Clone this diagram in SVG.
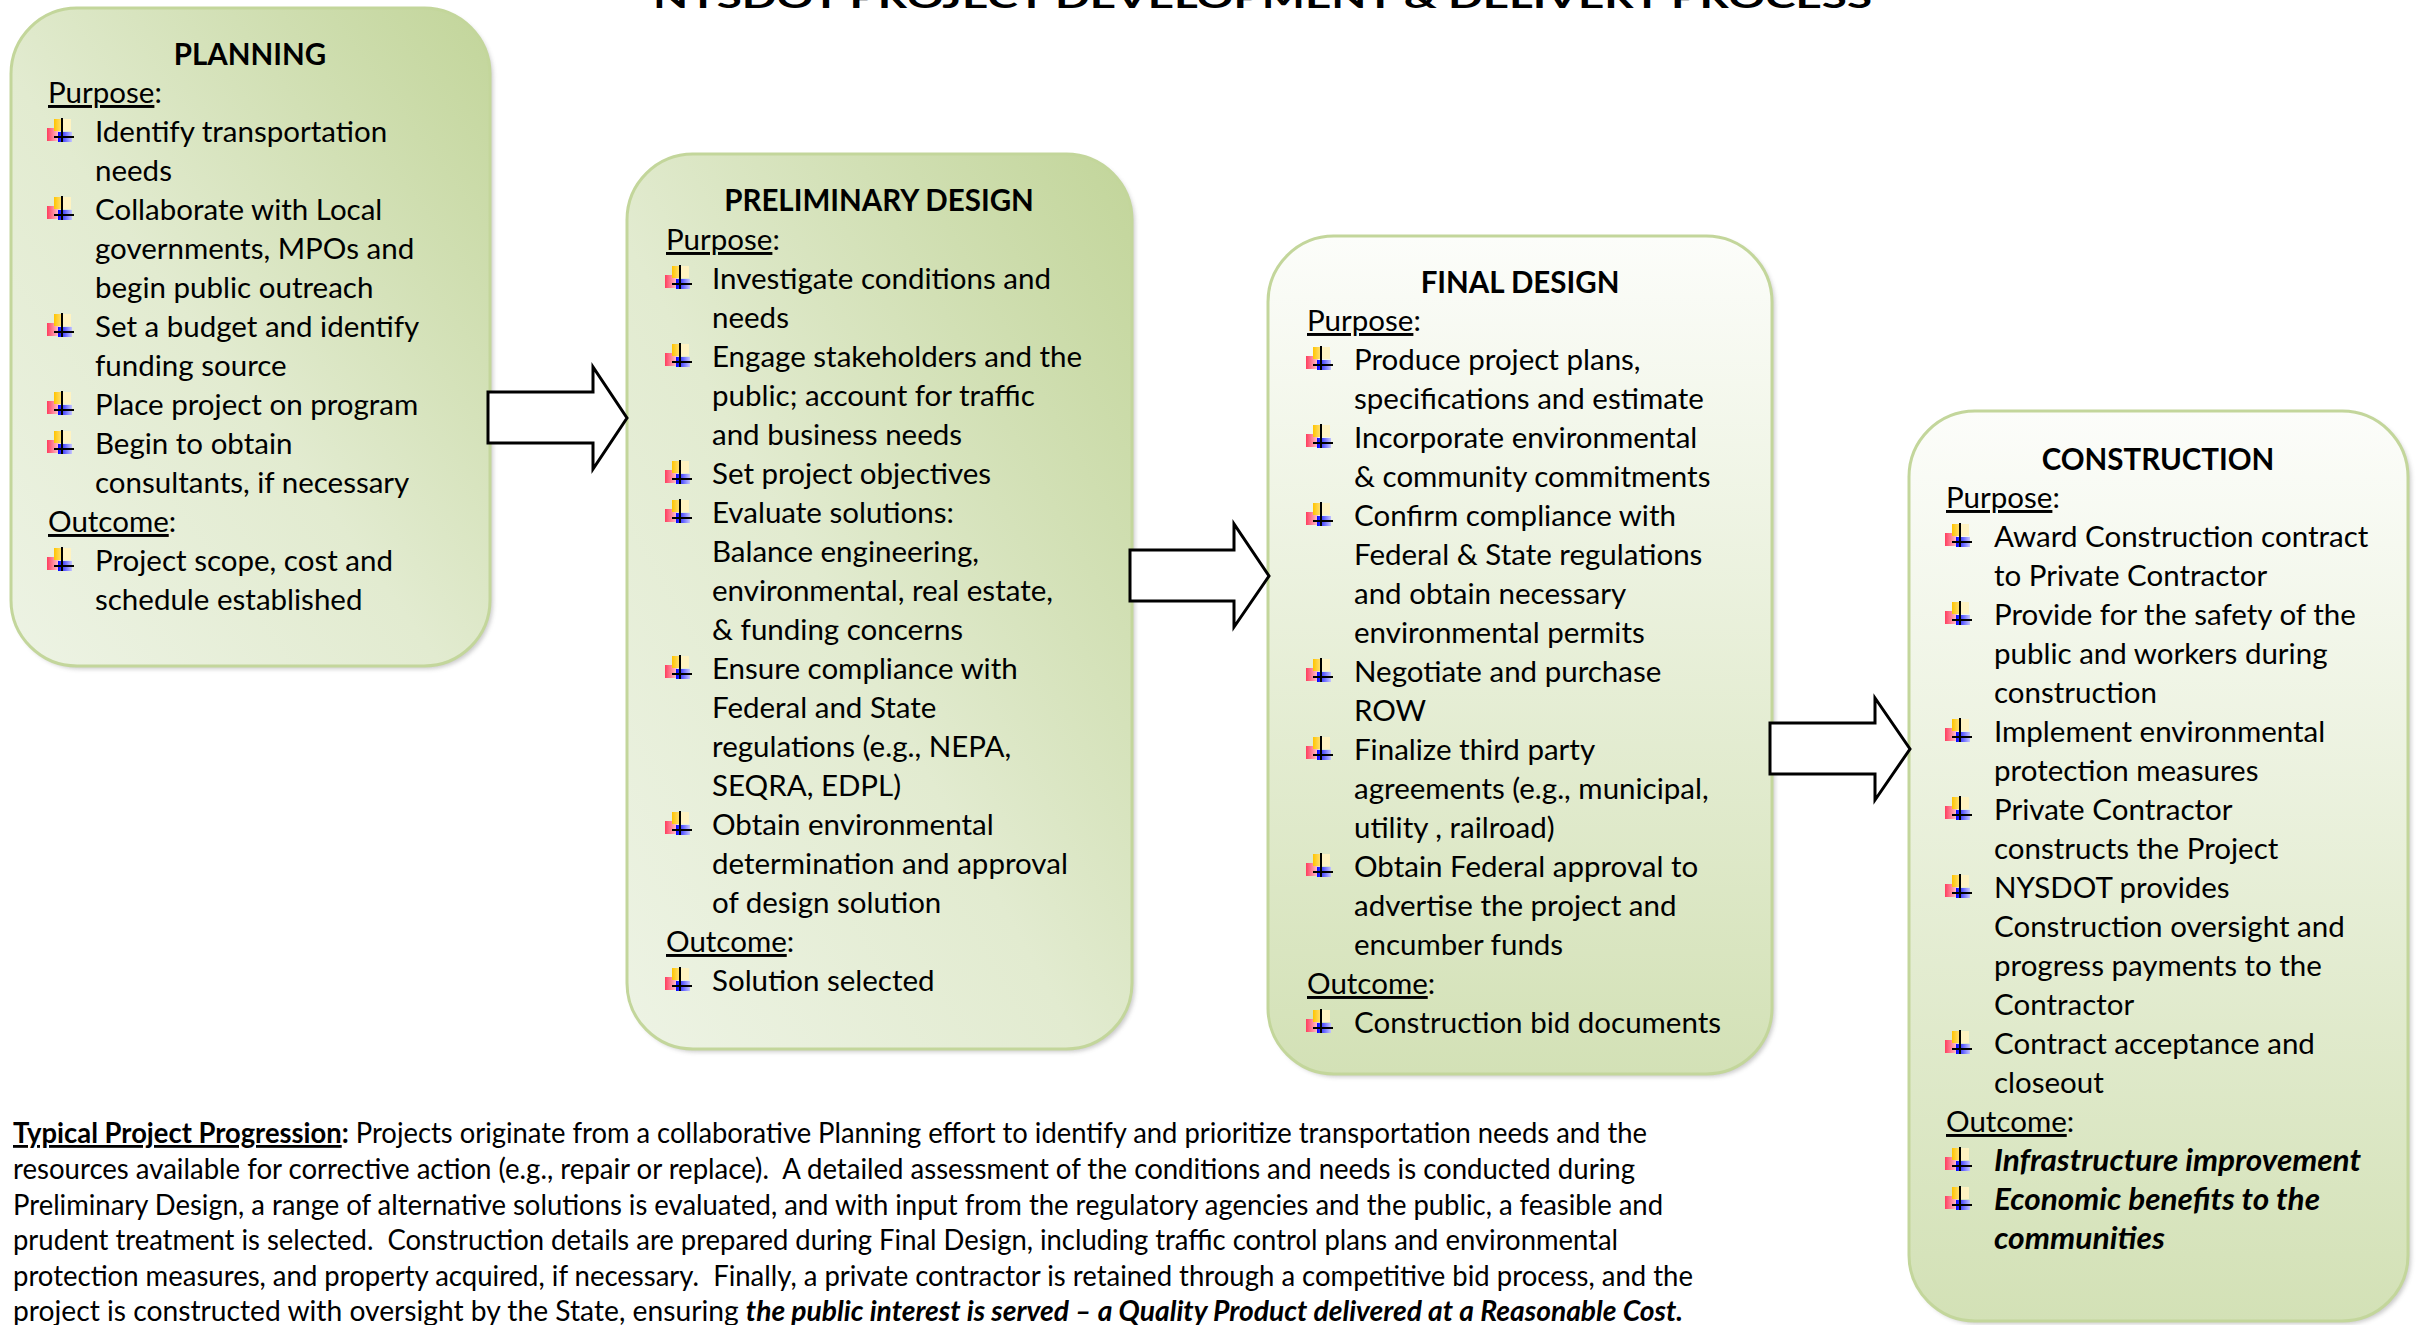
<svg xmlns="http://www.w3.org/2000/svg" width="2416" height="1325" viewBox="0 0 2416 1325">
<style>
.t { font-family: Lato, "Open Sans", "Liberation Sans", sans-serif; font-size: 29.5px; fill: #000; }
.h { font-weight: bold; text-anchor: middle; }
.u { text-decoration: underline; }
.bi { font-weight: bold; font-style: italic; }
.p { font-family: Lato, "Open Sans", "Liberation Sans", sans-serif; font-size: 28px; fill: #000; white-space: pre; }
.box { stroke: #c3d69b; stroke-width: 3; }
.shadow { fill: #8c8c8c; opacity: 0.45; filter: url(#blur); }
.arrow { fill: #ffffff; stroke: #000; stroke-width: 3; stroke-linejoin: miter; }
</style>
<defs>
  <filter id="blur" x="-5%" y="-5%" width="110%" height="110%"><feGaussianBlur stdDeviation="2"/></filter>
  <linearGradient id="gA" x1="0" y1="1" x2="1" y2="0">
    <stop offset="0" stop-color="#edf3e4"/>
    <stop offset="0.45" stop-color="#e2ebd0"/>
    <stop offset="1" stop-color="#c2d59a"/>
  </linearGradient>
  <linearGradient id="gB" x1="0" y1="0" x2="0" y2="1">
    <stop offset="0" stop-color="#fcfdfa"/>
    <stop offset="1" stop-color="#d3e1b6"/>
  </linearGradient>
  <linearGradient id="pinkG" x1="0" y1="0" x2="1" y2="0">
    <stop offset="0" stop-color="#ff3d5e"/>
    <stop offset="1" stop-color="#ffc8d0"/>
  </linearGradient>
  <linearGradient id="yelG" x1="0" y1="0" x2="1" y2="0">
    <stop offset="0" stop-color="#ffc400"/>
    <stop offset="1" stop-color="#ffe27a"/>
  </linearGradient>
  <linearGradient id="bluG" x1="0" y1="0" x2="1" y2="0">
    <stop offset="0" stop-color="#0000ff"/>
    <stop offset="1" stop-color="#c4c4ff"/>
  </linearGradient>
  <g id="bul">
    <rect x="0" y="-14" width="12" height="13" fill="url(#pinkG)"/>
    <rect x="7" y="-23" width="8" height="12" fill="url(#yelG)"/>
    <rect x="15" y="-23" width="9" height="12" fill="#fff3c2"/>
    <rect x="11" y="-10" width="14" height="10" fill="url(#bluG)"/>
    <line x1="15" y1="-24" x2="15" y2="0" stroke="#000" stroke-width="2"/>
    <line x1="7" y1="-5" x2="27" y2="-5" stroke="#000" stroke-width="2"/>
  </g>
</defs>
<rect width="2416" height="1325" fill="#ffffff"/>

<text class="t" x="653" y="8" font-size="46" font-weight="bold" textLength="1219" lengthAdjust="spacingAndGlyphs">NYSDOT PROJECT DEVELOPMENT &amp; DELIVERY PROCESS</text>

<g id="planning">
  <rect class="shadow" x="14" y="11" width="479" height="658" rx="66"/>
  <rect class="box" x="11" y="8" width="479" height="658" rx="66" fill="url(#gA)"/>
  <text class="t h" x="250" y="65">PLANNING</text>
  <text class="t" x="48" y="103"><tspan class="u">Purpose</tspan>:</text>
  <use href="#bul" x="47" y="142"/><text class="t" x="95" y="142">Identify transportation</text>
  <text class="t" x="95" y="181">needs</text>
  <use href="#bul" x="47" y="220"/><text class="t" x="95" y="220">Collaborate with Local</text>
  <text class="t" x="95" y="259">governments, MPOs and</text>
  <text class="t" x="95" y="298">begin public outreach</text>
  <use href="#bul" x="47" y="337"/><text class="t" x="95" y="337">Set a budget and identify</text>
  <text class="t" x="95" y="376">funding source</text>
  <use href="#bul" x="47" y="415"/><text class="t" x="95" y="415">Place project on program</text>
  <use href="#bul" x="47" y="454"/><text class="t" x="95" y="454">Begin to obtain</text>
  <text class="t" x="95" y="493">consultants, if necessary</text>
  <text class="t" x="48" y="532"><tspan class="u">Outcome</tspan>:</text>
  <use href="#bul" x="47" y="571"/><text class="t" x="95" y="571">Project scope, cost and</text>
  <text class="t" x="95" y="610">schedule established</text>
</g>

<g id="preliminary-design">
  <rect class="shadow" x="630" y="157" width="505" height="895" rx="66"/>
  <rect class="box" x="627" y="154" width="505" height="895" rx="66" fill="url(#gA)"/>
  <text class="t h" x="879" y="211">PRELIMINARY DESIGN</text>
  <text class="t" x="666" y="250"><tspan class="u">Purpose</tspan>:</text>
  <use href="#bul" x="665" y="289"/><text class="t" x="712" y="289">Investigate conditions and</text>
  <text class="t" x="712" y="328">needs</text>
  <use href="#bul" x="665" y="367"/><text class="t" x="712" y="367">Engage stakeholders and the</text>
  <text class="t" x="712" y="406">public; account for traffic</text>
  <text class="t" x="712" y="445">and business needs</text>
  <use href="#bul" x="665" y="484"/><text class="t" x="712" y="484">Set project objectives</text>
  <use href="#bul" x="665" y="523"/><text class="t" x="712" y="523">Evaluate solutions:</text>
  <text class="t" x="712" y="562">Balance engineering,</text>
  <text class="t" x="712" y="601">environmental, real estate,</text>
  <text class="t" x="712" y="640">&amp; funding concerns</text>
  <use href="#bul" x="665" y="679"/><text class="t" x="712" y="679">Ensure compliance with</text>
  <text class="t" x="712" y="718">Federal and State</text>
  <text class="t" x="712" y="757">regulations (e.g., NEPA,</text>
  <text class="t" x="712" y="796">SEQRA, EDPL)</text>
  <use href="#bul" x="665" y="835"/><text class="t" x="712" y="835">Obtain environmental</text>
  <text class="t" x="712" y="874">determination and approval</text>
  <text class="t" x="712" y="913">of design solution</text>
  <text class="t" x="666" y="952"><tspan class="u">Outcome</tspan>:</text>
  <use href="#bul" x="665" y="991"/><text class="t" x="712" y="991">Solution selected</text>
</g>

<g id="final-design">
  <rect class="shadow" x="1271" y="239" width="504" height="838" rx="66"/>
  <rect class="box" x="1268" y="236" width="504" height="838" rx="66" fill="url(#gB)"/>
  <text class="t h" x="1520" y="293">FINAL DESIGN</text>
  <text class="t" x="1307" y="331"><tspan class="u">Purpose</tspan>:</text>
  <use href="#bul" x="1306" y="370"/><text class="t" x="1354" y="370">Produce project plans,</text>
  <text class="t" x="1354" y="409">specifications and estimate</text>
  <use href="#bul" x="1306" y="448"/><text class="t" x="1354" y="448">Incorporate environmental</text>
  <text class="t" x="1354" y="487">&amp; community commitments</text>
  <use href="#bul" x="1306" y="526"/><text class="t" x="1354" y="526">Confirm compliance with</text>
  <text class="t" x="1354" y="565">Federal &amp; State regulations</text>
  <text class="t" x="1354" y="604">and obtain necessary</text>
  <text class="t" x="1354" y="643">environmental permits</text>
  <use href="#bul" x="1306" y="682"/><text class="t" x="1354" y="682">Negotiate and purchase</text>
  <text class="t" x="1354" y="721">ROW</text>
  <use href="#bul" x="1306" y="760"/><text class="t" x="1354" y="760">Finalize third party</text>
  <text class="t" x="1354" y="799">agreements (e.g., municipal,</text>
  <text class="t" x="1354" y="838">utility , railroad)</text>
  <use href="#bul" x="1306" y="877"/><text class="t" x="1354" y="877">Obtain Federal approval to</text>
  <text class="t" x="1354" y="916">advertise the project and</text>
  <text class="t" x="1354" y="955">encumber funds</text>
  <text class="t" x="1307" y="994"><tspan class="u">Outcome</tspan>:</text>
  <use href="#bul" x="1306" y="1033"/><text class="t" x="1354" y="1033">Construction bid documents</text>
</g>

<g id="construction">
  <rect class="shadow" x="1912" y="414" width="499" height="910" rx="66"/>
  <rect class="box" x="1909" y="411" width="499" height="910" rx="66" fill="url(#gB)"/>
  <text class="t h" x="2158" y="470">CONSTRUCTION</text>
  <text class="t" x="1946" y="508"><tspan class="u">Purpose</tspan>:</text>
  <use href="#bul" x="1945" y="547"/><text class="t" x="1994" y="547">Award Construction contract</text>
  <text class="t" x="1994" y="586">to Private Contractor</text>
  <use href="#bul" x="1945" y="625"/><text class="t" x="1994" y="625">Provide for the safety of the</text>
  <text class="t" x="1994" y="664">public and workers during</text>
  <text class="t" x="1994" y="703">construction</text>
  <use href="#bul" x="1945" y="742"/><text class="t" x="1994" y="742">Implement environmental</text>
  <text class="t" x="1994" y="781">protection measures</text>
  <use href="#bul" x="1945" y="820"/><text class="t" x="1994" y="820">Private Contractor</text>
  <text class="t" x="1994" y="859">constructs the Project</text>
  <use href="#bul" x="1945" y="898"/><text class="t" x="1994" y="898">NYSDOT provides</text>
  <text class="t" x="1994" y="937">Construction oversight and</text>
  <text class="t" x="1994" y="976">progress payments to the</text>
  <text class="t" x="1994" y="1015">Contractor</text>
  <use href="#bul" x="1945" y="1054"/><text class="t" x="1994" y="1054">Contract acceptance and</text>
  <text class="t" x="1994" y="1093">closeout</text>
  <text class="t" x="1946" y="1132"><tspan class="u">Outcome</tspan>:</text>
  <use href="#bul" x="1945" y="1171"/><text class="t bi" x="1994" y="1171" textLength="367" lengthAdjust="spacingAndGlyphs">Infrastructure improvement</text>
  <use href="#bul" x="1945" y="1210"/><text class="t bi" x="1994" y="1210" textLength="326" lengthAdjust="spacingAndGlyphs">Economic benefits to the</text>
  <text class="t bi" x="1994" y="1249" textLength="171" lengthAdjust="spacingAndGlyphs">communities</text>
</g>

<g id="connectors">
  <path class="arrow" d="M488,392 H593 V367 L627,418 L593,469 V443 H488 Z"/>
  <path class="arrow" d="M1130,550 H1234 V524 L1269,576 L1234,627 V601 H1130 Z"/>
  <path class="arrow" d="M1770,723 H1875 V698 L1910,749 L1875,800 V774 H1770 Z"/>
</g>

<g id="progression-note">
  <text class="p" x="13" y="1143" textLength="1634" lengthAdjust="spacingAndGlyphs"><tspan font-weight="bold" text-decoration="underline">Typical Project Progression</tspan><tspan font-weight="bold">:</tspan> Projects originate from a collaborative Planning effort to identify and prioritize transportation needs and the</text>
  <text class="p" x="13" y="1179" textLength="1622" lengthAdjust="spacingAndGlyphs">resources available for corrective action (e.g., repair or replace).  A detailed assessment of the conditions and needs is conducted during</text>
  <text class="p" x="13" y="1215" textLength="1650" lengthAdjust="spacingAndGlyphs">Preliminary Design, a range of alternative solutions is evaluated, and with input from the regulatory agencies and the public, a feasible and</text>
  <text class="p" x="13" y="1250" textLength="1605" lengthAdjust="spacingAndGlyphs">prudent treatment is selected.  Construction details are prepared during Final Design, including traffic control plans and environmental</text>
  <text class="p" x="13" y="1286" textLength="1680" lengthAdjust="spacingAndGlyphs">protection measures, and property acquired, if necessary.  Finally, a private contractor is retained through a competitive bid process, and the</text>
  <text class="p" x="13" y="1321" textLength="1670" lengthAdjust="spacingAndGlyphs">project is constructed with oversight by the State, ensuring <tspan font-weight="bold" font-style="italic">the public interest is served – a Quality Product delivered at a Reasonable Cost.</tspan></text>
</g>
</svg>
